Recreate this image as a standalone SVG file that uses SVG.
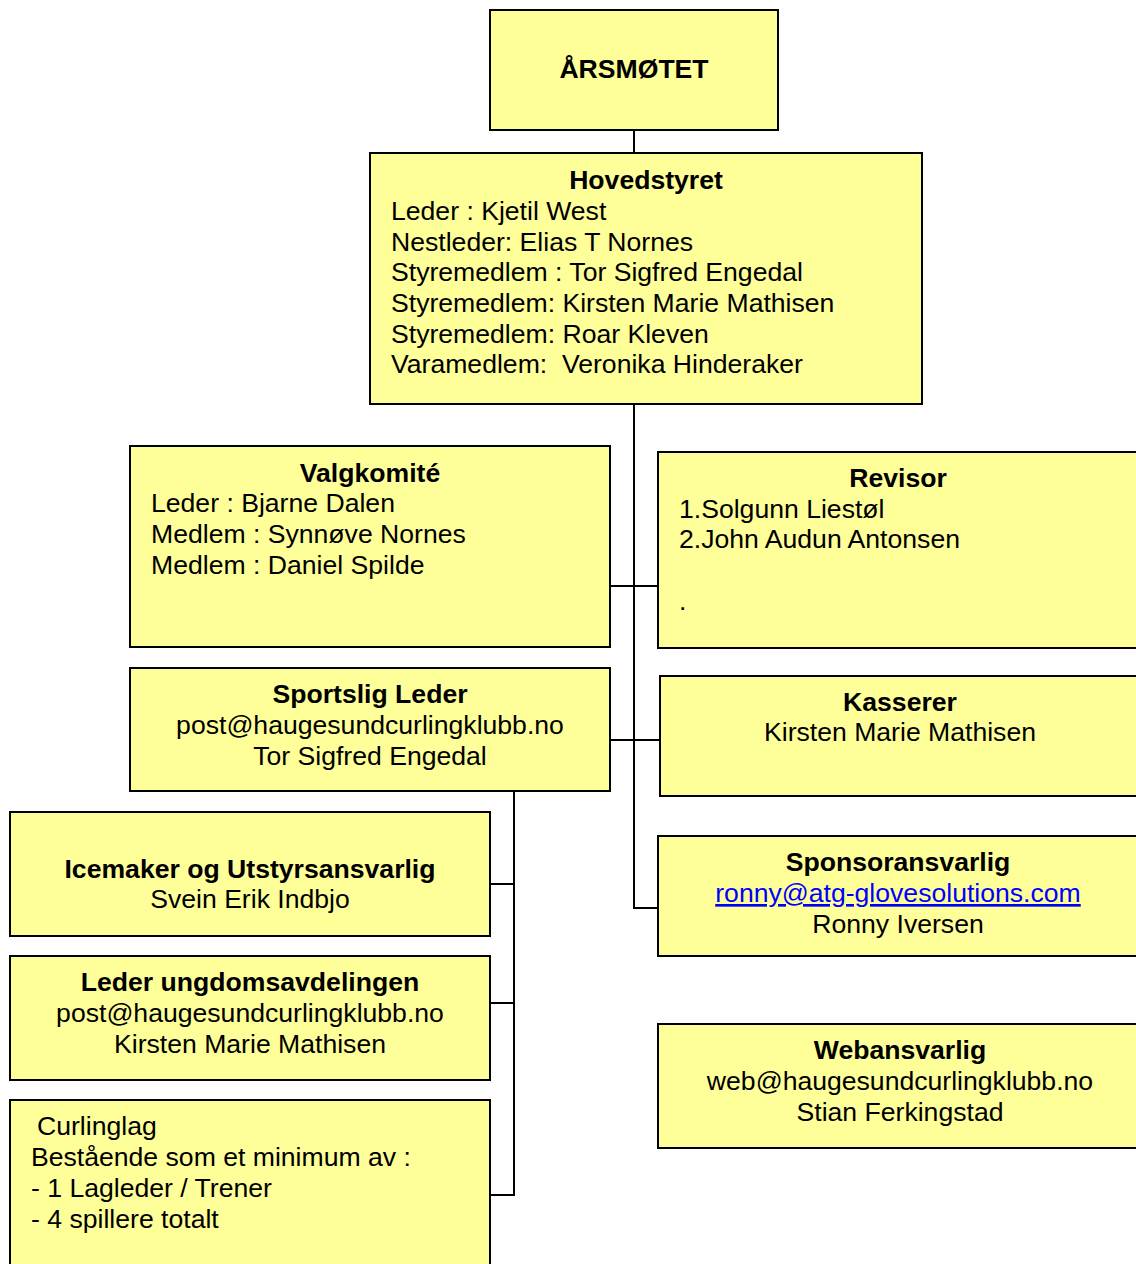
<svg xmlns="http://www.w3.org/2000/svg" width="1136" height="1264" viewBox="0 0 1136 1264">
<style>
.box{fill:#FFFF99;stroke:#000;stroke-width:2}
.t{font-family:"Liberation Sans",Arial,sans-serif;font-size:26.6px;fill:#000}
.b{font-weight:bold}
.c{text-anchor:middle}
.link{fill:#0000FF;text-decoration:underline}
.conn{stroke:#000;stroke-width:2;fill:none}
</style>
<rect width="1136" height="1264" fill="#fff"/>
<g id="connectors">
<path class="conn" d="M634 130V153"/>
<path class="conn" d="M634 404V908H658"/>
<path class="conn" d="M610 586H658"/>
<path class="conn" d="M610 740H660"/>
<path class="conn" d="M514 788V1195H490"/>
<path class="conn" d="M490 884H514"/>
<path class="conn" d="M490 1003H514"/>
</g>
<g id="arsmotet">
<rect class="box" x="490" y="10" width="288" height="120"/>
<text class="t b c" x="634" y="78">ÅRSMØTET</text>
</g>
<g id="hovedstyret">
<rect class="box" x="370" y="153" width="552" height="251"/>
<text class="t b c" x="646" y="189">Hovedstyret</text>
<text class="t" x="391" y="220">Leder : Kjetil West</text>
<text class="t" x="391" y="251">Nestleder: Elias T Nornes</text>
<text class="t" x="391" y="281">Styremedlem : Tor Sigfred Engedal</text>
<text class="t" x="391" y="312">Styremedlem: Kirsten Marie Mathisen</text>
<text class="t" x="391" y="343">Styremedlem: Roar Kleven</text>
<text class="t" x="391" y="373" xml:space="preserve">Varamedlem:  Veronika Hinderaker</text>
</g>
<g id="valgkomite">
<rect class="box" x="130" y="446" width="480" height="201"/>
<text class="t b c" x="370" y="482">Valgkomité</text>
<text class="t" x="151" y="512">Leder : Bjarne Dalen</text>
<text class="t" x="151" y="543">Medlem : Synnøve Nornes</text>
<text class="t" x="151" y="574">Medlem : Daniel Spilde</text>
</g>
<g id="revisor">
<rect class="box" x="658" y="452" width="490" height="196"/>
<text class="t b c" x="898" y="487">Revisor</text>
<text class="t" x="679" y="518">1.Solgunn Liestøl</text>
<text class="t" x="679" y="548">2.John Audun Antonsen</text>
<text class="t" x="679" y="610">.</text>
</g>
<g id="sportslig-leder">
<rect class="box" x="130" y="668" width="480" height="123"/>
<text class="t b c" x="370" y="703">Sportslig Leder</text>
<text class="t c" x="370" y="734">post@haugesundcurlingklubb.no</text>
<text class="t c" x="370" y="765">Tor Sigfred Engedal</text>
</g>
<g id="kasserer">
<rect class="box" x="660" y="676" width="490" height="120"/>
<text class="t b c" x="900" y="711">Kasserer</text>
<text class="t c" x="900" y="741">Kirsten Marie Mathisen</text>
</g>
<g id="icemaker">
<rect class="box" x="10" y="812" width="480" height="124"/>
<text class="t b c" x="250" y="878">Icemaker og Utstyrsansvarlig</text>
<text class="t c" x="250" y="908">Svein Erik Indbjo</text>
</g>
<g id="sponsoransvarlig">
<rect class="box" x="658" y="836" width="490" height="120"/>
<text class="t b c" x="898" y="871">Sponsoransvarlig</text>
<text class="t c link" x="898" y="902">ronny@atg-glovesolutions.com</text>
<text class="t c" x="898" y="933">Ronny Iversen</text>
</g>
<g id="leder-ungdom">
<rect class="box" x="10" y="956" width="480" height="124"/>
<text class="t b c" x="250" y="991">Leder ungdomsavdelingen</text>
<text class="t c" x="250" y="1022">post@haugesundcurlingklubb.no</text>
<text class="t c" x="250" y="1053">Kirsten Marie Mathisen</text>
</g>
<g id="webansvarlig">
<rect class="box" x="658" y="1024" width="490" height="124"/>
<text class="t b c" x="900" y="1059">Webansvarlig</text>
<text class="t c" x="900" y="1090">web@haugesundcurlingklubb.no</text>
<text class="t c" x="900" y="1121">Stian Ferkingstad</text>
</g>
<g id="curlinglag">
<rect class="box" x="10" y="1100" width="480" height="180"/>
<text class="t" x="37" y="1135">Curlinglag</text>
<text class="t" x="31" y="1166">Bestående som et minimum av :</text>
<text class="t" x="31" y="1197">- 1 Lagleder / Trener</text>
<text class="t" x="31" y="1228">- 4 spillere totalt</text>
</g>
</svg>
